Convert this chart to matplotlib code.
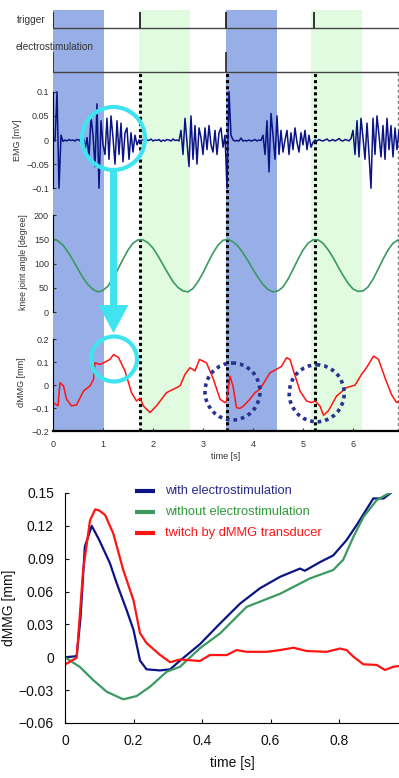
"""
Thigh muscle recordings: trigger / electrostimulation / EMG / knee angle / dMMG
plus averaged dMMG response (bottom panel).
"""
import numpy as np
import matplotlib
matplotlib.use("Agg")
import matplotlib.pyplot as plt
from matplotlib.patches import Ellipse, FancyArrow

plt.rcParams['font.family'] = ['Liberation Sans', 'DejaVu Sans']
plt.rcParams['axes.unicode_minus'] = True

W, H = 399, 778

# ── top panel data ───────────────────────────────────────────────────────────
blue_bands  = [(0.0, 1.02), (3.46, 4.48)]      # electrostimulation phases
green_bands = [(1.72, 2.74), (5.16, 6.18)]     # phases without stimulation
trigger_times = [0.0, 1.74, 3.46, 5.22]
stim_times    = [0.0, 3.46]
marker_times  = [1.74, 3.48, 5.24]

emg_dt = 0.04
emg_mv = [
    0.0, -0.002, 0.1, -0.1, 0.01, -0.003, 0.0, -0.002, 0.001, -0.001, 0.0, -0.002, 0.001, 0.0, -0.003,
    0.01, -0.02, 0.005, -0.035, 0.05, 0.01, -0.055, 0.075, -0.1, 0.04, -0.01, -0.03, 0.045, -0.04,
    0.05, 0.005, -0.05, 0.04, -0.03, 0.035, -0.045, 0.015, 0.025, -0.04, 0.015, -0.025, 0.01, -0.01,
    0.0, -0.002, 0.001, -0.003, 0.0, -0.001, 0.002, -0.002, 0.0, -0.001, 0.001, -0.003, 0.0, -0.002,
    0.001, 0.0, -0.002, 0.002, -0.001, 0.0, -0.002,
    0.02, -0.03, 0.045, -0.005, -0.055, 0.05, -0.04, 0.03, -0.05, 0.025, 0.005, -0.03, 0.025, -0.02,
    0.03, -0.01, -0.025, 0.02, -0.03, 0.015, 0.025, -0.015, 0.01,
    -0.1, 0.1,
    0.01, 0.0, -0.002, -0.001, -0.002, 0.004, -0.002, -0.001, -0.002, 0.0, -0.002, -0.001, 0.001, -0.002, 0.0, -0.001,
    0.01, -0.03, 0.04, -0.066, 0.055, 0.01, -0.04, 0.05, -0.03, 0.02, -0.025, 0.0, 0.02, -0.03,
    0.015, -0.02, 0.025, -0.005, -0.025, 0.015, -0.01, 0.02, -0.02, 0.01, -0.015, -0.005,
    0.0, -0.002, 0.001, -0.001, -0.002, 0.0, 0.002, -0.002, -0.001, 0.001, -0.002, 0.0, 0.003, -0.001,
    -0.002, 0.001, 0.0, -0.002, 0.003,
    0.02, -0.03, 0.04, -0.035, 0.045, 0.005, -0.04, 0.035, -0.03, -0.1, 0.045, -0.03, 0.05, 0.01,
    -0.035, 0.03, -0.04, 0.045, -0.02, 0.03, -0.035, 0.025, -0.02, 0.02,
]

knee_dt = 0.1
knee_deg = [150, 147, 138, 124, 107, 89, 71, 57, 47, 42,
            45, 54, 70, 89, 109, 128, 142, 149,
            149, 143, 132, 116, 98, 80, 63, 51, 44,
            42, 49, 63, 81, 102, 122, 138, 148,
            150, 145, 136, 122, 106, 88, 72, 57, 47, 42,
            44, 52, 68, 88, 109, 128, 142, 149,
            149, 142, 129, 113, 94, 76, 60, 48, 43,
            44, 52, 68, 88, 109, 128, 142, 149]

mmg_t = [0.0, 0.1, 0.14, 0.21, 0.27, 0.37, 0.47, 0.61, 0.74, 0.81,
         0.84, 0.94, 1.04, 1.14, 1.21, 1.31, 1.44, 1.57, 1.67, 1.74,
         1.81, 1.94, 2.07, 2.27, 2.54, 2.64, 2.74, 2.84, 2.93, 3.07,
         3.21, 3.34, 3.44, 3.47, 3.51, 3.54, 3.6, 3.67, 3.74, 3.81,
         3.94, 4.04, 4.14, 4.34, 4.47, 4.57, 4.67, 4.74, 4.81, 4.94,
         5.07, 5.17, 5.24, 5.34, 5.41, 5.51, 5.67, 5.87, 6.04, 6.17,
         6.27, 6.41, 6.51, 6.64, 6.77, 6.87, 6.92]
mmg_mm = [-0.075, -0.089, 0.011, -0.003, -0.06, -0.089, -0.085, -0.025, -0.003, 0.025,
          0.097, 0.09, 0.10, 0.112, 0.133, 0.12, 0.062, -0.032, -0.068, -0.056,
          -0.09, -0.118, -0.089, -0.032, -0.003, 0.047, 0.076, 0.062, 0.112, 0.097,
          0.025, -0.06, -0.075, -0.068, -0.01, 0.04, -0.003, -0.097, -0.1, -0.09,
          -0.06, -0.032, -0.017, 0.054, 0.069, 0.082, 0.119, 0.112, 0.062, -0.025,
          -0.068, -0.075, -0.068, -0.09, -0.13, -0.11, -0.047, -0.01, 0.0, 0.047,
          0.076, 0.126, 0.112, 0.032, -0.04, -0.075, -0.068]

# ── bottom panel data ────────────────────────────────────────────────────────
with_t = [0, 0.034, 0.045, 0.058, 0.078, 0.1, 0.131, 0.151, 0.18, 0.2,
          0.219, 0.238, 0.277, 0.307, 0.336, 0.394, 0.453, 0.511, 0.569, 0.628,
          0.686, 0.7, 0.745, 0.783, 0.822, 0.852, 0.9, 0.93, 0.959, 0.975]
with_v = [0.0, 0.001, 0.035, 0.101, 0.12, 0.107, 0.086, 0.0675, 0.043, 0.025,
          -0.003, -0.011, -0.012, -0.011, -0.003, 0.012, 0.031, 0.049, 0.063, 0.0735,
          0.081, 0.079, 0.087, 0.093, 0.107, 0.121, 0.145, 0.145, 0.152, 0.152]

without_t = [0, 0.044, 0.083, 0.122, 0.17, 0.209, 0.248, 0.297, 0.336, 0.394,
             0.453, 0.53, 0.628, 0.715, 0.783, 0.812, 0.842, 0.871, 0.91, 0.959, 0.975]
without_v = [0.0, -0.009, -0.021, -0.0315, -0.0384, -0.0354, -0.0269, -0.0132, -0.0086, 0.0083,
             0.0219, 0.046, 0.058, 0.072, 0.0797, 0.089, 0.11, 0.128, 0.1436, 0.152, 0.152]

twitch_t = [0, 0.034, 0.053, 0.073, 0.088, 0.1, 0.117, 0.141, 0.17, 0.2,
            0.219, 0.238, 0.277, 0.307, 0.336, 0.394, 0.423, 0.472, 0.501, 0.53,
            0.589, 0.628, 0.667, 0.706, 0.764, 0.803, 0.822, 0.842, 0.871, 0.91,
            0.934, 0.959, 0.975]
twitch_v = [-0.0067, -0.0004, 0.0797, 0.125, 0.135, 0.134, 0.13, 0.113, 0.0797, 0.052,
            0.022, 0.013, 0.0023, -0.0045, -0.002, -0.0034, 0.0021, 0.002, 0.0066, 0.005,
            0.005, 0.0066, 0.0087, 0.0057, 0.005, 0.008, 0.0066, 0.0005, -0.0064, -0.007,
            -0.0116, -0.0086, -0.008]

legend_labels = ["with electrostimulation", "without electrostimulation",
                 "twitch by dMMG transducer"]

NAVY = "#0b1484"
GREEN = "#3a9a62"
RED = "#ff1414"
CYAN = "#3fe4f0"
TXT = "#333333"


def ax_px(fig, left, top, right, bottom):
    return fig.add_axes([left / W, 1 - bottom / H, (right - left) / W, (bottom - top) / H])


def strip(ax, left=True):
    ax.patch.set_alpha(0)
    for s in ["top", "right", "bottom"]:
        ax.spines[s].set_visible(False)
    ax.spines["left"].set_visible(left)
    ax.set_xticks([])
    ax.tick_params(axis="y", direction="in", length=2, labelsize=6.5, colors=TXT, pad=3)


fig = plt.figure(figsize=(W / 100, H / 100), dpi=100)
T0, T1 = 0.0, 6.92
XL, XR = 53, 399

# ── background bands + dotted markers ────────────────────────────────────────
bg = ax_px(fig, XL, 10, XR, 431)
bg.set_xlim(T0, T1)
bg.set_ylim(0, 1)
bg.axis("off")
for a, b in blue_bands:
    bg.axvspan(a, b, color="#97afe6", lw=0)
for a, b in green_bands:
    bg.axvspan(a, b, color="#e0fbe0", lw=0)
for t in marker_times:
    bg.plot([t, t], [0, 0.855], color="black", lw=2.2, ls=(0, (1, 1)))
bg.plot([6.9, 6.9], [0, 0.855], color="#777777", lw=1, ls=(0, (2, 2)))

# ── trigger row ──────────────────────────────────────────────────────────────
ax = ax_px(fig, XL, 10, XR, 30)
strip(ax, left=False)
ax.set_xlim(T0, T1); ax.set_ylim(-0.1, 1.1)
ax.set_yticks([])
ax.axhline(0, color="#444444", lw=1)
ax.vlines(trigger_times, 0, 1, color="#222222", lw=1.3)
fig.text(17 / W, 1 - 20 / H, "trigger", fontsize=7.3, color=TXT, va="center")

# ── electrostimulation row ───────────────────────────────────────────────────
ax = ax_px(fig, XL, 50, XR, 74)
strip(ax, left=False)
ax.set_xlim(T0, T1); ax.set_ylim(-0.1, 1.1)
ax.set_yticks([])
ax.axhline(0, color="#444444", lw=1)
ax.vlines(stim_times, 0, 1, color="#333333", lw=1.3)
fig.text(16 / W, 1 - 47 / H, "electrostimulation", fontsize=7.2, color=TXT, va="center")

# ── EMG ──────────────────────────────────────────────────────────────────────
ax = ax_px(fig, XL, 85, XR, 195)
strip(ax)
emg_t = np.arange(len(emg_mv)) * emg_dt
ax.plot(emg_t, emg_mv, color=NAVY, lw=1.1)
ax.set_xlim(T0, T1); ax.set_ylim(-0.114, 0.114)
ax.spines["left"].set_bounds(-0.1, 0.1)
ax.set_yticks([-0.1, -0.05, 0, 0.05, 0.1])
ax.set_yticklabels(["\u22120.1", "\u22120.05", "0", "0.05", "0.1"])
ax.set_ylabel("EMG [mV]", fontsize=6.5, color=TXT, labelpad=3)

# ── knee joint angle ─────────────────────────────────────────────────────────
ax = ax_px(fig, XL, 205, XR, 320)
strip(ax)
knee_t = np.arange(len(knee_deg)) * knee_dt
ax.plot(knee_t, knee_deg, color=GREEN, lw=1.2)
ax.set_xlim(T0, T1); ax.set_ylim(-15.8, 220.6)
ax.spines["left"].set_bounds(0, 200)
ax.set_yticks([0, 50, 100, 150, 200])
ax.set_ylabel("knee joint angle [degree]", fontsize=6.2, color=TXT, labelpad=4)

# ── dMMG ─────────────────────────────────────────────────────────────────────
ax = ax_px(fig, XL, 333, XR, 431.5)
ax.patch.set_alpha(0)
for s in ["top", "right"]:
    ax.spines[s].set_visible(False)
ax.spines["bottom"].set_linewidth(1.6)
ax.plot(mmg_t, mmg_mm, color=RED, lw=1.1)
ax.set_xlim(T0, T1); ax.set_ylim(-0.2, 0.226)
ax.spines["left"].set_bounds(-0.2, 0.2)
ax.set_yticks([-0.2, -0.1, 0, 0.1, 0.2])
ax.set_yticklabels(["\u22120.2", "\u22120.1", "0", "0.1", "0.2"])
ax.set_xticks(range(7))
ax.tick_params(axis="y", direction="in", length=2, labelsize=6.5, colors=TXT, pad=3)
ax.tick_params(axis="x", direction="in", length=2, labelsize=6.5, colors=TXT, pad=6)
ax.set_ylabel("dMMG [mm]", fontsize=6.5, color=TXT, labelpad=4)
ax.set_xlabel("time [s]", fontsize=6.5, color=TXT, labelpad=2)

# ── bottom panel ─────────────────────────────────────────────────────────────
ax = ax_px(fig, 65, 493, 399, 723)
ax.patch.set_alpha(0)
ax.plot(with_t, with_v, color=NAVY, lw=1.6)
ax.plot(without_t, without_v, color=GREEN, lw=1.6)
ax.plot(twitch_t, twitch_v, color=RED, lw=1.6)
ax.set_xlim(0, 0.975); ax.set_ylim(-0.06, 0.15)
for s in ["top", "right"]:
    ax.spines[s].set_visible(False)
ax.set_yticks([-0.06, -0.03, 0, 0.03, 0.06, 0.09, 0.12, 0.15])
ax.set_yticklabels(["\u22120.06", "\u22120.03", "0", "0.03", "0.06", "0.09", "0.12", "0.15"])
ax.set_xticks([0, 0.2, 0.4, 0.6, 0.8])
ax.set_xticklabels(["0", "0.2", "0.4", "0.6", "0.8"])
ax.tick_params(direction="in", length=3, labelsize=10, colors="#111111", pad=8)
ax.set_ylabel("dMMG [mm]", fontsize=10, color="#111111")
ax.yaxis.set_label_coords(-0.147, 0.5)
ax.set_xlabel("time [s]", fontsize=10, color="#111111", labelpad=6)

# ── annotation overlay (pixel coordinates), drawn last ───────────────────────
ov = fig.add_axes([0, 0, 1, 1])
ov.patch.set_alpha(0)
ov.set_xlim(0, W); ov.set_ylim(H, 0)
ov.axis("off")
ov.add_patch(Ellipse((113.5, 138.5), 63, 63, fill=False, ec=CYAN, lw=3))
ov.add_patch(FancyArrow(113.5, 170, 0, 163, width=7, head_width=30, head_length=28,
                        length_includes_head=True, color=CYAN, lw=0))
ov.add_patch(Ellipse((114, 359), 46, 45, fill=False, ec=CYAN, lw=3))
for cx, cy in [(232.5, 391.5), (316.7, 393.3)]:
    ov.add_patch(Ellipse((cx, cy), 55, 57, fill=False, ec="#27338f", lw=2.6,
                         ls=(0, (1, 1.1))))

leg_colors = [NAVY, GREEN, RED]
text_colors = ["#2a2a8a", "#2f9a3a", RED]
for k, (lab, lc, tc) in enumerate(zip(legend_labels, leg_colors, text_colors)):
    y = 491 + k * 21
    ov.plot([135, 155], [y, y], color=lc, lw=3, solid_capstyle="butt")
    ov.text(165, y, lab, color=tc, fontsize=9.3, va="center")

fig.savefig("out.png", dpi=100)
